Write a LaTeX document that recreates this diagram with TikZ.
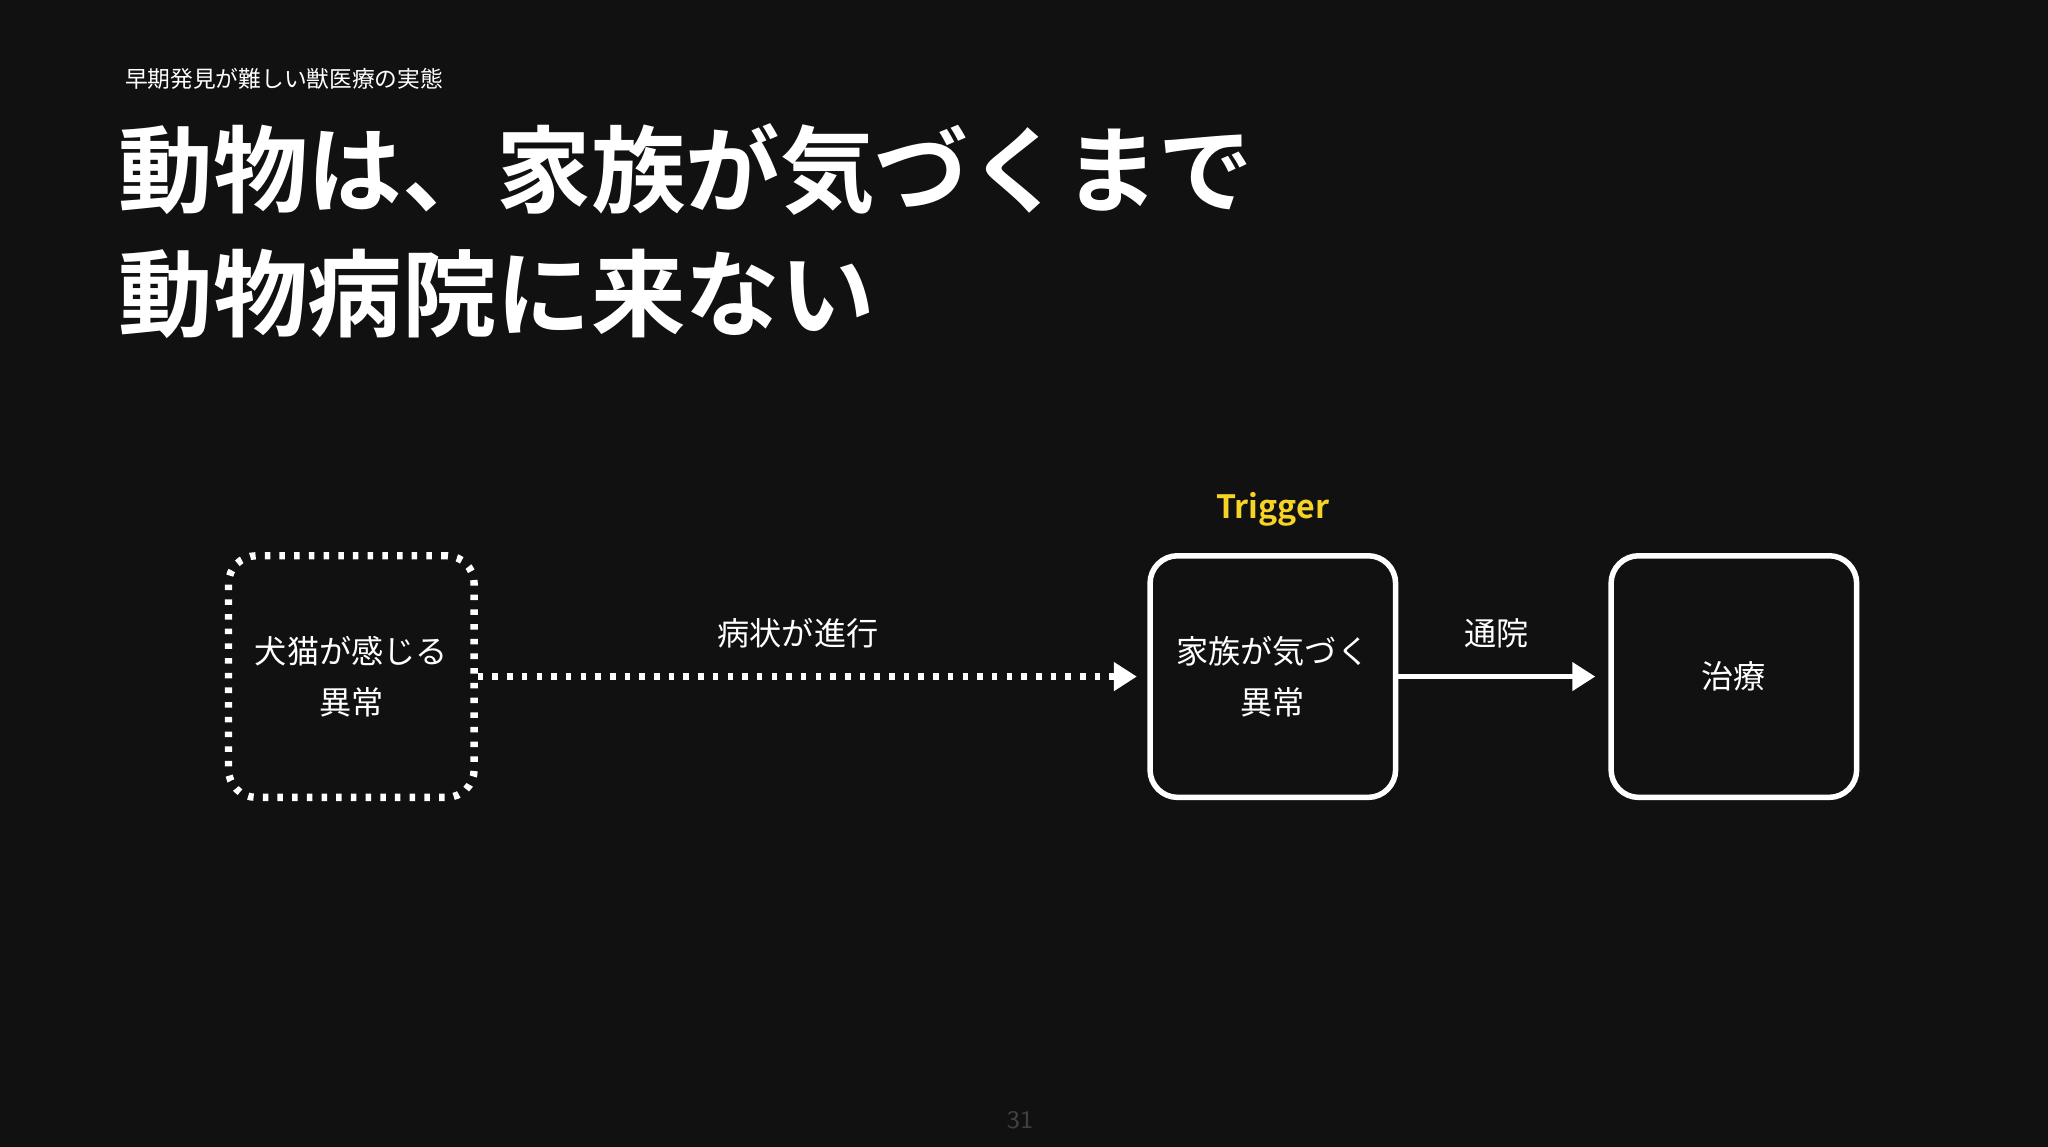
\documentclass[tikz,border=0pt]{standalone}
\usepackage{fontspec}
\newfontfamily\jp{Noto Sans CJK JP}
\newfontfamily\jpb{Noto Sans CJK JP Bold}
\usetikzlibrary{positioning, arrows.meta}
\definecolor{bg}{HTML}{111111}
\definecolor{trig}{HTML}{F5D327}
\tikzset{
    >=Triangle,
    every node/.style={text=white}
}
\begin{document}
\begin{tikzpicture}[
  stepbox/.style={draw=white, line width=1.2pt, rounded corners=6pt, minimum width=1.88cm, minimum height=1.85cm, align=center, font=\jp\fontsize{7pt}{11pt}\selectfont},
  flow/.style={-{Triangle[length=5pt,width=6pt]}, draw=white, line width=1.2pt},
  lbl/.style={font=\jp\fontsize{7pt}{9pt}\selectfont}
]
  \fill[bg] (0,0) rectangle (15.68,-8.78);
  \useasboundingbox (0,0) rectangle (15.68,-8.78);

  % Heading
  \node[anchor=west, inner sep=0pt, font=\jp\fontsize{4.95pt}{6pt}\selectfont] (sub) at (0.95,-0.60) {早期発見が難しい獣医療の実態};
  \node[anchor=west, inner sep=0pt, font=\jpb\fontsize{20.6pt}{27pt}\selectfont] (title1) at (0.90,-1.30) {動物は、家族が気づくまで};
  \node[anchor=west, inner sep=0pt, font=\jpb\fontsize{20.6pt}{27pt}\selectfont] (title2) at (0.90,-2.25) {動物病院に来ない};

  % Boxes
  \node[stepbox, dotted, line width=1.6pt] (feel) at (2.69,-5.18) {犬猫が感じる\\異常};
  \node[stepbox] (notice) at (9.745,-5.18) {家族が気づく\\異常};
  \node[stepbox] (treat) at (13.275,-5.18) {治療};
  \node[font=\jpb\fontsize{7pt}{9pt}\selectfont, text=trig] (trigger) at (9.745,-3.90) {Trigger};

  % Arrows
  \draw[flow, dotted, line width=1.6pt] (feel) -- ([xshift=-0.08cm]notice.west);
  \node[lbl] (prog) at (6.11,-4.85) {病状が進行};
  \draw[flow] (notice) -- ([xshift=-0.1cm]treat.west);
  \node[lbl] (visit) at (11.46,-4.85) {通院};

  \node[font=\sffamily\fontsize{5.5pt}{7pt}\selectfont, text=black!75] (page) at (7.81,-8.58) {31};
\end{tikzpicture}
\end{document}
